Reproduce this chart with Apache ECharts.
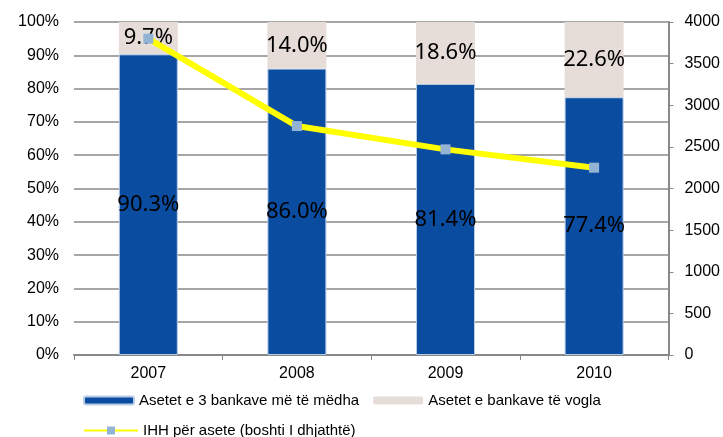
<!DOCTYPE html>
<html>
<head>
<meta charset="utf-8">
<script src="https://cdn.jsdelivr.net/npm/echarts@6/dist/echarts.min.js"></script>
<style>
  html, body { margin: 0; padding: 0; background: #fff; }
  #main { width: 723px; height: 437px; }
</style>
</head>
<body>
<div id="main"></div>
<script>
// data
var years = ['2007', '2008', '2009', '2010'];
var bigBanks = [90.3, 86.0, 81.4, 77.4];
var smallBanks = [9.7, 14.0, 18.6, 22.6];
var ihh = [3800, 2750, 2470, 2250];

var chart = echarts.init(document.getElementById('main'));
var labelStyle = {
    show: true,
    position: 'inside',
    color: '#000',
    fontFamily: 'Noto Sans',
    fontSize: 22,
    formatter: function (p) { return p.value.toFixed(1) + '%'; }
};
var option = {
    animation: false,
    textStyle: { fontFamily: 'Liberation Sans' },
    grid: { left: 74, right: 53, top: 22, bottom: 82 },
    legend: [
        {
            data: ['Asetet e 3 bankave më të mëdha', 'Asetet e bankave të vogla'],
            left: 78, top: 388,
            itemWidth: 50, itemHeight: 8, itemGap: 14,
            textStyle: { fontSize: 15, color: '#000', fontFamily: 'Liberation Sans' }
        },
        {
            data: ['IHH për asete (boshti I dhjathtë)'],
            left: 78, top: 418,
            itemWidth: 54, itemHeight: 10,
            textStyle: { fontSize: 15, color: '#000', fontFamily: 'Liberation Sans' }
        }
    ],
    xAxis: {
        type: 'category',
        data: years,
        axisLine: { lineStyle: { color: '#888', width: 2 } },
        axisTick: { show: true, length: 5, lineStyle: { color: '#888' } },
        axisLabel: { color: '#000', fontSize: 16, margin: 11 }
    },
    yAxis: [
        {
            type: 'value', min: 0, max: 100, interval: 10,
            axisLine: { show: false },
            axisTick: { show: false },
            axisLabel: { formatter: '{value}%', color: '#000', fontSize: 16, margin: 15 },
            splitLine: { lineStyle: { color: '#888', width: 1.5 } }
        },
        {
            type: 'value', min: 0, max: 4000, interval: 500,
            position: 'right',
            axisLine: { show: true, lineStyle: { color: '#888', width: 2 } },
            axisTick: { show: true, length: 5, lineStyle: { color: '#888' } },
            axisLabel: { color: '#000', fontSize: 16, margin: 16, formatter: function (v) { return String(v); } },
            splitLine: { show: false }
        }
    ],
    series: [
        {
            name: 'Asetet e 3 bankave më të mëdha',
            type: 'bar', stack: 'a', barWidth: 59,
            data: bigBanks,
            itemStyle: { color: '#0A4DA0', borderColor: '#B8CCE8', borderWidth: 1 },
            label: labelStyle
        },
        {
            name: 'Asetet e bankave të vogla',
            type: 'bar', stack: 'a', barWidth: 59,
            data: smallBanks,
            itemStyle: { color: '#E6DDD9' },
            label: labelStyle
        },
        {
            name: 'IHH për asete (boshti I dhjathtë)',
            type: 'line', yAxisIndex: 1,
            data: ihh,
            symbol: 'rect', symbolSize: 10,
            lineStyle: { color: '#FFFF00', width: 6 },
            itemStyle: { color: '#93B3D5' },
            z: 5
        }
    ]
};
chart.setOption(option);
</script>
</body>
</html>
